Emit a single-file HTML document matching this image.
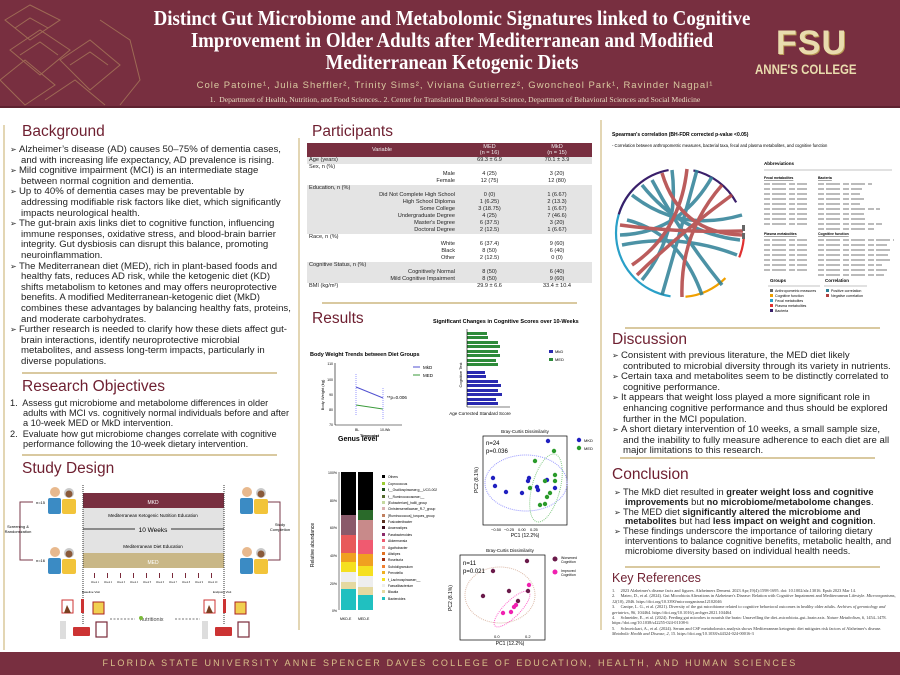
<!DOCTYPE html>
<html><head><meta charset="utf-8">
<style>
*{margin:0;padding:0;box-sizing:border-box}
body{width:900px;height:675px;overflow:hidden;background:#fff;font-family:"Liberation Sans",sans-serif;position:relative;color:#222}
.a{position:absolute}
#hdr{left:0;top:0;width:900px;height:108px;background:#782f40;border-bottom:2px solid #5e2230}
.tl{position:absolute;left:452px;white-space:nowrap;color:#fff;font-family:"Liberation Serif",serif;font-weight:bold;font-size:21px;line-height:22px;transform:translateX(-50%) scaleX(.9)}
.auth{left:110px;width:690px;top:80px;text-align:center;color:#d9c9a0;font-size:9.5px;letter-spacing:1px}
.aff{left:110px;width:690px;top:95px;text-align:center;color:#e6dcc0;font-family:"Liberation Serif",serif;font-size:7.6px}
#ftr{left:0;top:652px;width:900px;height:23px;background:#782f40;color:#d9c08a;font-size:9px;letter-spacing:2.2px;text-align:center;line-height:23px}
h2{position:absolute;color:#6e1f30;font-weight:normal;font-size:15.5px;font-family:"Liberation Sans",sans-serif}
.txt{position:absolute;font-size:9.6px;line-height:10.6px;color:#222}
.txt p{padding-left:11px;text-indent:-11px}
.txt p:before{content:"➢ ";font-size:8px}
.ol p{padding-left:13px;text-indent:-13px}
.ol p:before{content:none}
.hr{position:absolute;height:2px;background:#d9c9a0}
.vr{position:absolute;width:2px;background:#e3d6b4}
table{border-collapse:collapse;font-size:5.6px;width:285px}
td{padding:0 2px;height:7px;line-height:7px}
.g td{background:#e4e4e4}
th{background:#782f40;color:#eee;font-weight:normal;height:14px;font-size:5.6px;line-height:6.5px}
.r{text-align:right}.c{text-align:center}
</style></head><body>
<div id="hdr" class="a">
<svg class="a" style="left:0;top:0" width="150" height="108"><g stroke="#a8795a" stroke-width="1" fill="none" opacity=".8">
<path d="M5 20 L30 5 L60 20 L30 40 Z M10 50 L40 30 L70 50 L40 75 Z M0 80 L25 60 L55 85 L25 105 Z M60 60 L90 40 L120 65 L90 90 Z M45 100 L75 80 L105 105 M100 20 L130 40 L140 80 L120 105"/>
<path d="M15 28 L30 18 L48 28 M20 55 L40 42 L58 55 M70 65 L90 52 L108 65"/></g></svg>
<div class="tl" style="top:7px">Distinct Gut Microbiome and Metabolomic Signatures linked to Cognitive</div>
<div class="tl" style="top:29px">Improvement in Older Adults after Mediterranean and Modified</div>
<div class="tl" style="top:51px">Mediterranean Ketogenic Diets</div>
<div class="a auth">Cole Patoine¹, Julia Sheffler², Trinity Sims², Viviana Gutierrez², Gwoncheol Park¹, Ravinder Nagpal¹</div>
<div class="a aff">1.&nbsp; Department of Health, Nutrition, and Food Sciences.. 2. Center for Translational Behavioral Science, Department of Behavioral Sciences and Social Medicine</div>
<div class="a" style="left:776px;top:26px;color:#e9dcae;font-size:34px;font-weight:bold;letter-spacing:1px;line-height:34px;text-shadow:1px 1px 0 #b89a55">FSU</div>
<div class="a" style="left:755px;top:62px;color:#e9dcae;font-size:13.5px;font-weight:bold;transform:scaleX(.85);transform-origin:left">ANNE'S COLLEGE</div>
</div>

<div class="vr" style="left:3px;top:125px;height:525px"></div>
<div class="vr" style="left:298px;top:138px;height:492px"></div>
<div class="vr" style="left:600px;top:120px;height:510px"></div>

<h2 style="left:22px;top:123px">Background</h2>
<div class="txt" style="left:10px;top:145px;width:283px">
<p>Alzheimer’s disease (AD) causes 50–75% of dementia cases, and with increasing life expectancy, AD prevalence is rising.</p>
<p>Mild cognitive impairment (MCI) is an intermediate stage between normal cognition and dementia.</p>
<p>Up to 40% of dementia cases may be preventable by addressing modifiable risk factors like diet, which significantly impacts neurological health.</p>
<p>The gut-brain axis links diet to cognitive function, influencing immune responses, oxidative stress, and blood-brain barrier integrity. Gut dysbiosis can disrupt this balance, promoting neuroinflammation.</p>
<p>The Mediterranean diet (MED), rich in plant-based foods and healthy fats, reduces AD risk, while the ketogenic diet (KD) shifts metabolism to ketones and may offers neuroprotective benefits. A modified Mediterranean-ketogenic diet (MkD) combines these advantages by balancing healthy fats, proteins, and moderate carbohydrates.</p>
<p>Further research is needed to clarify how these diets affect gut-brain interactions, identify neuroprotective microbial metabolites, and assess long-term impacts, particularly in diverse populations.</p>
</div>
<div class="hr" style="left:22px;top:372px;width:255px"></div>
<h2 style="left:22px;top:378px">Research Objectives</h2>
<div class="txt ol" style="left:10px;top:398px;width:285px;font-size:9.2px;line-height:10.2px">
<p>1.&nbsp; Assess gut microbiome and metabolome differences in older adults with MCI vs. cognitively normal individuals before and after a 10-week MED or MkD intervention.</p>
<p>2.&nbsp; Evaluate how gut microbiome changes correlate with cognitive performance following the 10-week dietary intervention.</p>
</div>
<div class="hr" style="left:22px;top:454px;width:255px"></div>
<h2 style="left:22px;top:460px">Study Design</h2>
<svg class="a" style="left:0;top:480px" width="298" height="170" font-family="Liberation Sans">
<rect x="83" y="13" width="141" height="15" fill="#782f40"/><text x="153" y="24" font-size="5" fill="#fff" text-anchor="middle">MKD</text>
<rect x="83" y="28" width="141" height="45" fill="#e3e3e3"/>
<text x="153" y="37" font-size="4.5" text-anchor="middle">Mediterranean Ketogenic Nutrition Education</text>
<line x1="83" y1="49" x2="135" y2="49" stroke="#333" stroke-width="1"/><line x1="171" y1="49" x2="224" y2="49" stroke="#333" stroke-width="1"/>
<text x="153" y="52" font-size="6.5" text-anchor="middle">10 Weeks</text>
<text x="153" y="68" font-size="4.5" text-anchor="middle">Mediterranean Diet Education</text>
<rect x="83" y="73" width="141" height="15" fill="#c9b787"/><text x="153" y="84" font-size="5" fill="#fff" text-anchor="middle">MED</text>
<line x1="83" y1="5" x2="83" y2="145" stroke="#333" stroke-dasharray="1,1"/><line x1="224" y1="5" x2="224" y2="145" stroke="#333" stroke-dasharray="1,1"/>
<g fill="none" stroke="#7a3a4a" stroke-width="1"><path d="M33 22 H20 V80 H33"/><path d="M268 22 H280 V80 H268"/></g>
<text x="36" y="24" font-size="4">n=15</text><text x="36" y="82" font-size="4">n=16</text>
<text x="18" y="48" font-size="4" text-anchor="middle">Screening &amp;</text><text x="18" y="53" font-size="4" text-anchor="middle">Randomization</text>
<text x="280" y="46" font-size="4" text-anchor="middle">Study</text><text x="280" y="51" font-size="4" text-anchor="middle">Completion</text>
<g id="pp"><circle cx="55" cy="12" r="5" fill="#e8b98e"/><rect x="48" y="18" width="13" height="16" rx="2" fill="#3b8bc4"/><circle cx="69" cy="13" r="5" fill="#c9c9c9"/><circle cx="69" cy="14" r="3.5" fill="#8a5a3a"/><rect x="62" y="19" width="14" height="15" rx="2" fill="#f2c43a"/></g>
<use href="#pp" y="60"/><use href="#pp" x="192"/><use href="#pp" x="192" y="60"/>
<g fill="#7a2a3a">
<rect x="94" y="93" width="1" height="5"/><rect x="107" y="93" width="1" height="5"/><rect x="120" y="93" width="1" height="5"/><rect x="133" y="93" width="1" height="5"/><rect x="146" y="93" width="1" height="5"/><rect x="159" y="93" width="1" height="5"/><rect x="172" y="93" width="1" height="5"/><rect x="185" y="93" width="1" height="5"/><rect x="198" y="93" width="1" height="5"/><rect x="211" y="93" width="1" height="5"/></g>
<g fill="#333" font-size="2.4">
<text x="91" y="103">Week 1</text><text x="104" y="103">Week 2</text><text x="117" y="103">Week 3</text><text x="130" y="103">Week 4</text><text x="143" y="103">Week 5</text><text x="156" y="103">Week 6</text><text x="169" y="103">Week 7</text><text x="182" y="103">Week 8</text><text x="195" y="103">Week 9</text><text x="208" y="103">Week 10</text></g>
<text x="82" y="113" font-size="3">Baseline Visit</text><text x="213" y="113" font-size="3">Endpoint Visit</text>
<g id="ic"><rect x="62" y="120" width="11" height="13" fill="#fff" stroke="#c33" stroke-width="1"/><path d="M64 133 L67 125 L71 133Z" fill="#7a4020"/><rect x="81" y="119" width="3" height="14" fill="#c33"/><rect x="93" y="122" width="11" height="12" fill="#f1d050" stroke="#a22"/>
<rect x="60" y="141" width="6" height="18" fill="#ddd"/><rect x="73" y="147" width="17" height="9" rx="1" fill="#c33"/><rect x="96" y="142" width="11" height="15" fill="#fff" stroke="#7a2a3a" stroke-width="1.2"/></g>
<use href="#ic" x="142"/>
<line x1="110" y1="139" x2="135" y2="139" stroke="#777" stroke-dasharray="2,1.5"/><line x1="175" y1="139" x2="200" y2="139" stroke="#777" stroke-dasharray="2,1.5"/>
<text x="140" y="141" font-size="5.5" fill="#444">nutritionix</text><circle cx="141" cy="138" r="2" fill="#7bbb3a"/>
</svg>

<h2 style="left:312px;top:123px">Participants</h2>
<table class="a" style="left:307px;top:143px">
<tr><th style="width:150px">Variable</th><th style="width:65px">MED<br>(n = 16)</th><th>MkD<br>(n = 15)</th></tr>
<tr class="g"><td>Age (years)</td><td class="c">69.3 ± 6.9</td><td class="c">70.1 ± 3.9</td></tr>
<tr><td>Sex, n (%)</td><td></td><td></td></tr>
<tr><td class="r">Male</td><td class="c">4 (25)</td><td class="c">3 (20)</td></tr>
<tr><td class="r">Female</td><td class="c">12 (75)</td><td class="c">12 (80)</td></tr>
<tr class="g"><td>Education, n (%)</td><td></td><td></td></tr>
<tr class="g"><td class="r">Did Not Complete High School</td><td class="c">0 (0)</td><td class="c">1 (6.67)</td></tr>
<tr class="g"><td class="r">High School Diploma</td><td class="c">1 (6.25)</td><td class="c">2 (13.3)</td></tr>
<tr class="g"><td class="r">Some College</td><td class="c">3 (18.75)</td><td class="c">1 (6.67)</td></tr>
<tr class="g"><td class="r">Undergraduate Degree</td><td class="c">4 (25)</td><td class="c">7 (46.6)</td></tr>
<tr class="g"><td class="r">Master's Degree</td><td class="c">6 (37.5)</td><td class="c">3 (20)</td></tr>
<tr class="g"><td class="r">Doctoral Degree</td><td class="c">2 (12.5)</td><td class="c">1 (6.67)</td></tr>
<tr><td>Race, n (%)</td><td></td><td></td></tr>
<tr><td class="r">White</td><td class="c">6 (37.4)</td><td class="c">9 (60)</td></tr>
<tr><td class="r">Black</td><td class="c">8 (50)</td><td class="c">6 (40)</td></tr>
<tr><td class="r">Other</td><td class="c">2 (12.5)</td><td class="c">0 (0)</td></tr>
<tr class="g"><td>Cognitive Status, n (%)</td><td></td><td></td></tr>
<tr class="g"><td class="r">Cognitively Normal</td><td class="c">8 (50)</td><td class="c">6 (40)</td></tr>
<tr class="g"><td class="r">Mild Cognitive Impairment</td><td class="c">8 (50)</td><td class="c">9 (60)</td></tr>
<tr><td>BMI (kg/m²)</td><td class="c">29.9 ± 6.6</td><td class="c">33.4 ± 10.4</td></tr>
</table>
<div class="hr" style="left:322px;top:302px;width:255px"></div>
<h2 style="left:312px;top:310px">Results</h2>
<svg class="a" style="left:300px;top:315px" width="300" height="335" font-family="Liberation Sans">
<text x="133" y="8" font-size="5.5" font-weight="bold">Significant Changes in Cognitive Scores over 10-Weeks</text>
<g fill="#2e8b3a"><rect x="167" y="17" width="20" height="3"/><rect x="167" y="21" width="21" height="3"/><rect x="167" y="26" width="31" height="3"/><rect x="167" y="30" width="33" height="3"/><rect x="167" y="35" width="31" height="3"/><rect x="167" y="39" width="33" height="3"/><rect x="167" y="44" width="29" height="3"/><rect x="167" y="48" width="31" height="3"/></g>
<g fill="#2a2ab0"><rect x="167" y="56" width="18" height="3"/><rect x="167" y="60" width="19" height="3"/><rect x="167" y="65" width="31" height="3"/><rect x="167" y="69" width="34" height="3"/><rect x="167" y="74" width="31" height="3"/><rect x="167" y="78" width="35" height="3"/><rect x="167" y="83" width="29" height="3"/><rect x="167" y="87" width="31" height="3"/></g>
<line x1="167" y1="14" x2="167" y2="92" stroke="#000" stroke-width=".6"/><line x1="167" y1="92" x2="210" y2="92" stroke="#000" stroke-width=".6"/>
<text x="180" y="100" font-size="4.5" text-anchor="middle">Age Corrected Standard Score</text>
<text x="162" y="60" font-size="4" transform="rotate(-90 162 60)" text-anchor="middle">Cognitive Test</text>
<rect x="249" y="35" width="4" height="3" fill="#2a2ab0"/><text x="255" y="38" font-size="4">MkD</text><rect x="249" y="43" width="4" height="3" fill="#2e8b3a"/><text x="255" y="46" font-size="4">MED</text>
<text x="10" y="41" font-size="5.5" font-weight="bold">Body Weight Trends between Diet Groups</text>
<line x1="35" y1="48" x2="35" y2="110" stroke="#000" stroke-width=".6"/><line x1="35" y1="110" x2="102" y2="110" stroke="#000" stroke-width=".6"/>
<g font-size="3.5" text-anchor="end"><text x="33" y="50">110</text><text x="33" y="66">100</text><text x="33" y="81">90</text><text x="33" y="96">80</text><text x="33" y="111">70</text></g>
<text x="55" y="116" font-size="3.5">BL</text><text x="80" y="116" font-size="3.5">10-Wk</text><text x="60" y="122" font-size="4" font-weight="bold">Timepoint</text>
<text x="24" y="80" font-size="4" transform="rotate(-90 24 80)" text-anchor="middle">Body Weight (kg)</text>
<polyline points="56,72 83,83" stroke="#5050d0" fill="none"/><polyline points="56,90 83,94" stroke="#3a9a3a" fill="none"/>
<line x1="56" y1="59" x2="56" y2="100" stroke="#99f" stroke-dasharray="1,1"/><line x1="83" y1="73" x2="83" y2="105" stroke="#99f" stroke-dasharray="1,1"/>
<text x="87" y="84" font-size="4.5">**p=0.006</text>
<line x1="113" y1="52" x2="120" y2="52" stroke="#5050d0"/><text x="123" y="54" font-size="4.5">MkD</text><line x1="113" y1="60" x2="120" y2="60" stroke="#3a9a3a"/><text x="123" y="62" font-size="4.5">MED</text>
<text x="38" y="126" font-size="7" font-weight="bold">Genus level</text>
<rect x="41" y="157" width="15" height="138" fill="#000"/>
<rect x="41" y="200" width="15" height="20" fill="#8a5a6a"/><rect x="41" y="220" width="15" height="18" fill="#e85a5a"/><rect x="41" y="238" width="15" height="9" fill="#f0a020"/><rect x="41" y="247" width="15" height="10" fill="#f5e020"/><rect x="41" y="257" width="15" height="10" fill="#eee"/><rect x="41" y="267" width="15" height="20" fill="#e5d9a0"/><rect x="41" y="274" width="15" height="21" fill="#20c0c0"/>
<rect x="58" y="157" width="15" height="138" fill="#000"/>
<rect x="58" y="195" width="15" height="10" fill="#2a6a2a"/><rect x="58" y="205" width="15" height="20" fill="#c88a8a"/><rect x="58" y="225" width="15" height="14" fill="#f05a70"/><rect x="58" y="239" width="15" height="12" fill="#f0a020"/><rect x="58" y="251" width="15" height="10" fill="#f5e020"/><rect x="58" y="261" width="15" height="11" fill="#eee"/><rect x="58" y="272" width="15" height="8" fill="#e5d9a0"/><rect x="58" y="280" width="15" height="15" fill="#20c0c0"/>
<line x1="39" y1="157" x2="39" y2="295" stroke="#000" stroke-width=".5"/>
<g font-size="3.5" text-anchor="end"><text x="37" y="159">100%</text><text x="37" y="187">80%</text><text x="37" y="214">60%</text><text x="37" y="242">40%</text><text x="37" y="270">20%</text><text x="37" y="297">0%</text></g>
<text x="14" y="230" font-size="5" transform="rotate(-90 14 230)" text-anchor="middle">Relative abundance</text>
<text x="40" y="305" font-size="3.5">MKD-E</text><text x="58" y="305" font-size="3.5">MED-E</text>
<g font-size="3.3">
<rect x="82" y="160" width="3" height="3" fill="#000"/><text x="88" y="163">Others</text>
<rect x="82" y="167" width="3" height="3" fill="#9acd32"/><text x="88" y="170">Coprococcus</text>
<rect x="82" y="173" width="3" height="3" fill="#1a4a1a"/><text x="88" y="176">f__Oscillospiraceae;g__UCG-002</text>
<rect x="82" y="180" width="3" height="3" fill="#556b2f"/><text x="88" y="183">f__Ruminococcaceae;__</text>
<rect x="82" y="186" width="3" height="3" fill="#c5d9a0"/><text x="88" y="189">[Eubacterium]_hallii_group</text>
<rect x="82" y="192" width="3" height="3" fill="#d9b0b0"/><text x="88" y="195">Christensenellaceae_R-7_group</text>
<rect x="82" y="199" width="3" height="3" fill="#c08060"/><text x="88" y="202">[Ruminococcus]_torques_group</text>
<rect x="82" y="205" width="3" height="3" fill="#5a3020"/><text x="88" y="208">Fusicatenibacter</text>
<rect x="82" y="211" width="3" height="3" fill="#3a0a1a"/><text x="88" y="214">Anaerostipes</text>
<rect x="82" y="218" width="3" height="3" fill="#8a2a6a"/><text x="88" y="221">Parabacteroides</text>
<rect x="82" y="224" width="3" height="3" fill="#f05a70"/><text x="88" y="227">Akkermansia</text>
<rect x="82" y="231" width="3" height="3" fill="#f0a0a0"/><text x="88" y="234">Agathobacter</text>
<rect x="82" y="237" width="3" height="3" fill="#e07020"/><text x="88" y="240">Alistipes</text>
<rect x="82" y="243" width="3" height="3" fill="#a03010"/><text x="88" y="246">Roseburia</text>
<rect x="82" y="250" width="3" height="3" fill="#f08030"/><text x="88" y="253">Subdoligranulum</text>
<rect x="82" y="256" width="3" height="3" fill="#f0b020"/><text x="88" y="259">Prevotella</text>
<rect x="82" y="263" width="3" height="3" fill="#f5e020"/><text x="88" y="266">f_Lachnospiraceae;__</text>
<rect x="82" y="269" width="3" height="3" fill="#eee"/><text x="88" y="272">Faecalibacterium</text>
<rect x="82" y="275" width="3" height="3" fill="#e5d9a0"/><text x="88" y="278">Blautia</text>
<rect x="82" y="282" width="3" height="3" fill="#20c0c0"/><text x="88" y="285">Bacteroides</text>
</g>
<text x="225" y="118" font-size="4.5" text-anchor="middle">Bray-Curtis Dissimilarity</text>
<rect x="183" y="121" width="84" height="89" fill="none" stroke="#000" stroke-width=".7"/>
<ellipse cx="226" cy="168" rx="41" ry="28" fill="none" stroke="#99f" stroke-dasharray="1,1"/><ellipse cx="246" cy="173" rx="14" ry="35" transform="rotate(15 246 173)" fill="none" stroke="#8c8" stroke-dasharray="1,1"/>
<text x="186" y="130" font-size="6">n=24</text><text x="186" y="138" font-size="6">p=0.036</text>
<g fill="#2020c0"><circle cx="248" cy="126" r="2.2"/><circle cx="193" cy="163" r="2.2"/><circle cx="195" cy="171" r="2.2"/><circle cx="206" cy="177" r="2.2"/><circle cx="229" cy="163" r="2.2"/><circle cx="228" cy="166" r="2.2"/><circle cx="222" cy="178" r="2.2"/><circle cx="237" cy="172" r="2.2"/><circle cx="238" cy="175" r="2.2"/><circle cx="247" cy="165" r="2.2"/><circle cx="255" cy="173" r="2.2"/></g>
<g fill="#2a9a2a"><circle cx="254" cy="136" r="2.2"/><circle cx="235" cy="146" r="2.2"/><circle cx="255" cy="160" r="2.2"/><circle cx="255" cy="166" r="2.2"/><circle cx="245" cy="166" r="2.2"/><circle cx="230" cy="173" r="2.2"/><circle cx="250" cy="178" r="2.2"/><circle cx="247" cy="182" r="2.2"/><circle cx="240" cy="190" r="2.2"/><circle cx="245" cy="189" r="2.2"/></g>
<circle cx="279" cy="125" r="2.2" fill="#2020c0"/><text x="284" y="127" font-size="4">MKD</text><circle cx="279" cy="133" r="2.2" fill="#2a9a2a"/><text x="284" y="135" font-size="4">MED</text>
<g font-size="4"><text x="191" y="216">−0.50</text><text x="204" y="216">−0.25</text><text x="218" y="216">0.00</text><text x="230" y="216">0.25</text></g>
<text x="225" y="222" font-size="5" text-anchor="middle">PC1 (12.2%)</text>
<text x="178" y="165" font-size="5" transform="rotate(-90 178 165)" text-anchor="middle">PC2 (8.1%)</text>
<text x="210" y="237" font-size="4.5" text-anchor="middle">Bray-Curtis Dissimilarity</text>
<rect x="160" y="240" width="85" height="85" fill="none" stroke="#000" stroke-width=".7"/>
<ellipse cx="200" cy="280" rx="35" ry="28" fill="none" stroke="#dba" stroke-dasharray="1,1"/><ellipse cx="212" cy="294" rx="8" ry="24" transform="rotate(45 212 294)" fill="none" stroke="#f6c" stroke-dasharray="1,1"/>
<text x="163" y="250" font-size="6">n=11</text><text x="163" y="258" font-size="6">p=0.021</text>
<g fill="#6a1a4a"><circle cx="227" cy="246" r="2.2"/><circle cx="193" cy="256" r="2.2"/><circle cx="209" cy="276" r="2.2"/><circle cx="228" cy="276" r="2.2"/><circle cx="183" cy="281" r="2.2"/><circle cx="218" cy="286" r="2.2"/></g>
<g fill="#f020b0"><circle cx="229" cy="270" r="2.2"/><circle cx="216" cy="290" r="2.2"/><circle cx="214" cy="292" r="2.2"/><circle cx="211" cy="297" r="2.2"/><circle cx="203" cy="298" r="2.2"/></g>
<circle cx="255" cy="244" r="2.5" fill="#6a1a4a"/><text x="261" y="244" font-size="3.5">Worsened</text><text x="261" y="248" font-size="3.5">Cognition</text>
<circle cx="255" cy="257" r="2.5" fill="#f020b0"/><text x="261" y="257" font-size="3.5">Improved</text><text x="261" y="261" font-size="3.5">Cognition</text>
<text x="194" y="323" font-size="4">0.0</text><text x="225" y="323" font-size="4">0.2</text>
<text x="210" y="330" font-size="5" text-anchor="middle">PC1 (12.2%)</text>
<text x="152" y="283" font-size="5" transform="rotate(-90 152 283)" text-anchor="middle">PC2 (8.1%)</text>
</svg>

<svg class="a" style="left:602px;top:125px" width="298" height="190" font-family="Liberation Sans">
<text x="10" y="11" font-size="5" font-weight="bold">Spearman's correlation (BH-FDR corrected p-value &lt;0.05)</text>
<text x="10" y="22" font-size="4.2">- Correlation between anthropometric measures, bacterial taxa, fecal and plasma metabolites, and cognitive function</text>
<g fill="none" stroke-width="2.2">
<circle cx="78" cy="108" r="64" stroke="#3a1f6a" stroke-dasharray="55 400" stroke-dashoffset="140"/>
<circle cx="78" cy="108" r="64" stroke="#2aa0c8" stroke-dasharray="140 400" stroke-dashoffset="-110"/>
<circle cx="78" cy="108" r="64" stroke="#f0a000" stroke-dasharray="45 400" stroke-dashoffset="-50"/>
<circle cx="78" cy="108" r="64" stroke="#e03030" stroke-dasharray="30 400" stroke-dashoffset="5"/>
</g>
<circle cx="78" cy="108" r="64" fill="none" stroke="#3a1f6a" stroke-width="2.2" stroke-dasharray="70 400" stroke-dashoffset="250"/>
<g fill="none" stroke-width="3.5" opacity=".85">
<path d="M30 70 Q78 108 140 90" stroke="#2d7f96"/><path d="M50 55 Q78 108 120 160" stroke="#2d7f96"/><path d="M70 45 Q78 108 40 155" stroke="#2d7f96"/><path d="M95 45 Q78 108 60 170" stroke="#2d7f96"/><path d="M20 120 Q78 108 135 130" stroke="#2d7f96"/><path d="M25 95 Q78 108 100 170" stroke="#2d7f96"/><path d="M110 52 Q78 108 18 110" stroke="#2d7f96"/><path d="M40 60 Q78 108 138 115" stroke="#2d7f96"/>
<path d="M60 48 Q78 108 140 110" stroke="#b04040"/><path d="M85 44 Q78 108 30 140" stroke="#b04040"/><path d="M18 100 Q78 108 141 106" stroke="#b04040"/><path d="M120 60 Q78 108 80 172" stroke="#b04040"/><path d="M35 150 Q78 108 130 70" stroke="#b04040"/>
</g>
<rect x="140" y="100" width="3" height="6" fill="#666"/><rect x="140" y="108" width="3" height="6" fill="#666"/>
<text x="162" y="40" font-size="4.5" font-weight="bold">Abbreviations</text><line x1="162" y1="45" x2="290" y2="45" stroke="#888" stroke-width=".6"/>
<g font-size="3.5" font-weight="bold"><text x="162" y="54" text-decoration="underline">Fecal metabolites</text><text x="216" y="54" text-decoration="underline">Bacteria</text><text x="162" y="110" text-decoration="underline">Plasma metabolites</text><text x="216" y="110" text-decoration="underline">Cognitive function</text></g>
<g stroke="#777" stroke-width="1.1" stroke-dasharray="6,2,14,3">
<line x1="162" y1="59" x2="205" y2="59"/><line x1="162" y1="64" x2="205" y2="64"/><line x1="162" y1="69" x2="205" y2="69"/><line x1="162" y1="74" x2="205" y2="74"/><line x1="162" y1="79" x2="205" y2="79"/><line x1="162" y1="84" x2="205" y2="84"/><line x1="162" y1="89" x2="205" y2="89"/><line x1="162" y1="94" x2="205" y2="94"/><line x1="162" y1="99" x2="205" y2="99"/>
<line x1="216" y1="59" x2="270" y2="59"/><line x1="216" y1="64" x2="260" y2="64"/><line x1="216" y1="69" x2="258" y2="69"/><line x1="216" y1="74" x2="262" y2="74"/><line x1="216" y1="79" x2="258" y2="79"/><line x1="216" y1="84" x2="278" y2="84"/><line x1="216" y1="89" x2="262" y2="89"/><line x1="216" y1="94" x2="266" y2="94"/><line x1="216" y1="99" x2="280" y2="99"/><line x1="216" y1="104" x2="272" y2="104"/>
<line x1="162" y1="115" x2="205" y2="115"/><line x1="162" y1="120" x2="205" y2="120"/><line x1="162" y1="125" x2="205" y2="125"/><line x1="162" y1="130" x2="205" y2="130"/><line x1="162" y1="135" x2="205" y2="135"/><line x1="162" y1="140" x2="205" y2="140"/><line x1="162" y1="145" x2="205" y2="145"/>
<line x1="216" y1="115" x2="292" y2="115"/><line x1="216" y1="120" x2="285" y2="120"/><line x1="216" y1="125" x2="290" y2="125"/><line x1="216" y1="130" x2="286" y2="130"/><line x1="216" y1="135" x2="290" y2="135"/><line x1="216" y1="140" x2="280" y2="140"/><line x1="216" y1="145" x2="285" y2="145"/><line x1="216" y1="150" x2="282" y2="150"/>
</g>
<text x="168" y="157" font-size="4.5" font-weight="bold">Groups</text><line x1="166" y1="161" x2="218" y2="161" stroke="#888" stroke-width=".6"/>
<text x="223" y="157" font-size="4.5" font-weight="bold">Correlation</text><line x1="222" y1="161" x2="265" y2="161" stroke="#888" stroke-width=".6"/>
<g font-size="3.6"><rect x="168" y="164" width="3" height="3" fill="#666"/><text x="173" y="167">Anthropometric measures</text>
<rect x="168" y="169" width="3" height="3" fill="#f0a000"/><text x="173" y="172">Cognitive function</text>
<rect x="168" y="174" width="3" height="3" fill="#2aa0c8"/><text x="173" y="177">Fecal metabolites</text>
<rect x="168" y="179" width="3" height="3" fill="#e03030"/><text x="173" y="182">Plasma metabolites</text>
<rect x="168" y="184" width="3" height="3" fill="#3a1f6a"/><text x="173" y="187">Bacteria</text>
<rect x="224" y="164" width="3" height="3" fill="#2d7f96"/><text x="229" y="167">Positive correlation</text>
<rect x="224" y="169" width="3" height="3" fill="#b04040"/><text x="229" y="172">Negative correlation</text></g>
</svg>
<div class="hr" style="left:625px;top:327px;width:255px"></div>
<h2 style="left:612px;top:331px">Discussion</h2>
<div class="txt" style="left:612px;top:351px;width:285px">
<p>Consistent with previous literature, the MED diet likely contributed to microbial diversity through its variety in nutrients.</p>
<p>Certain taxa and metabolites seem to be distinctly correlated to cognitive performance.</p>
<p>It appears that weight loss played a more significant role in enhancing cognitive performance and thus should be explored further in the MCI population.</p>
<p>A short dietary intervention of 10 weeks, a small sample size, and the inability to fully measure adherence to each diet are all major limitations to this research.</p>
</div>
<div class="hr" style="left:620px;top:457px;width:255px"></div>
<h2 style="left:612px;top:466px">Conclusion</h2>
<div class="txt" style="left:614px;top:488px;width:282px;font-size:9.3px;line-height:9.8px">
<p>The MkD diet resulted in <b>greater weight loss and cognitive improvements</b> but <b>no microbiome/metabolome changes</b>.</p>
<p>The MED diet <b>significantly altered the microbiome and metabolites</b> but had <b>less impact on weight and cognition</b>.</p>
<p>These findings underscore the importance of tailoring dietary interventions to balance cognitive benefits, metabolic health, and microbiome diversity based on individual health needs.</p>
</div>
<div class="hr" style="left:625px;top:566px;width:255px"></div>
<h2 style="left:612px;top:571px;font-size:12.5px">Key References</h2>
<div class="a" style="left:612px;top:588px;width:285px;font-family:'Liberation Serif',serif;font-size:4.3px;line-height:5.4px;color:#333">
<div>1.&nbsp;&nbsp;&nbsp;&nbsp;&nbsp;2023 Alzheimer's disease facts and figures. Alzheimers Dement. 2023 Apr;19(4):1598-1695. doi: 10.1002/alz.13016. Epub 2023 Mar 14.</div>
<div>2.&nbsp;&nbsp;&nbsp;&nbsp;&nbsp;Mateo, D., et al. (2024). Gut Microbiota Alterations in Alzheimer's Disease: Relation with Cognitive Impairment and Mediterranean Lifestyle. <i>Microorganisms, 12</i>(10), 2046. https://doi.org/10.3390/microorganisms12102046</div>
<div>3.&nbsp;&nbsp;&nbsp;&nbsp;&nbsp;Canipe, L. G., et al. (2021). Diversity of the gut microbiome related to cognitive behavioral outcomes in healthy older adults. <i>Archives of gerontology and geriatrics, 96</i>, 104464. https://doi.org/10.1016/j.archger.2021.104464</div>
<div>4.&nbsp;&nbsp;&nbsp;&nbsp;&nbsp;Schneider, E., et al. (2024). Feeding gut microbes to nourish the brain: Unravelling the diet–microbiota–gut–brain axis. <i>Nature Metabolism, 6</i>, 1454–1478. https://doi.org/10.1038/s42255-024-01108-6</div>
<div>5.&nbsp;&nbsp;&nbsp;&nbsp;&nbsp;Schweickart, A., et al. (2024). Serum and CSF metabolomics analysis shows Mediterranean ketogenic diet mitigates risk factors of Alzheimer's disease. <i>Metabolic Health and Disease, 2</i>, 15. https://doi.org/10.1038/s44324-024-00016-3</div>
</div>

<div id="ftr" class="a">FLORIDA STATE UNIVERSITY ANNE SPENCER DAVES COLLEGE OF EDUCATION, HEALTH, AND HUMAN SCIENCES</div>
</body></html>
